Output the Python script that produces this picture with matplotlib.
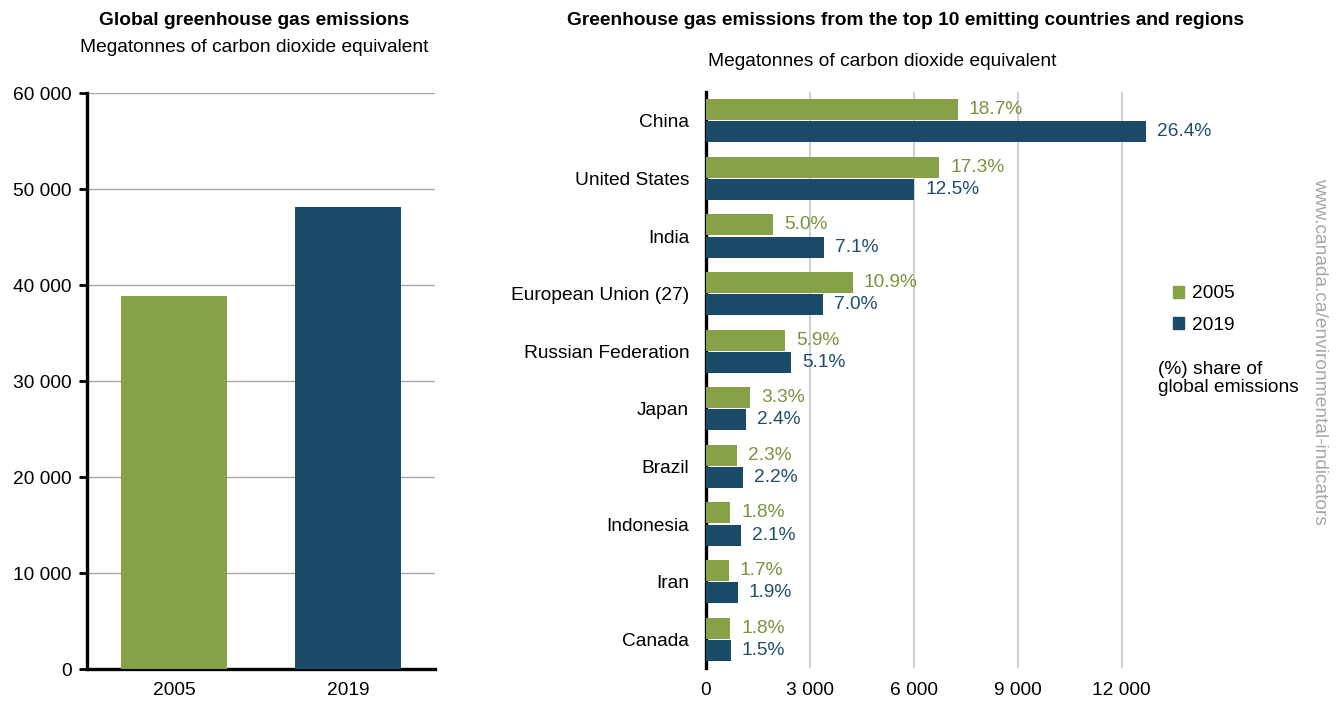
import matplotlib
matplotlib.use("Agg")
import matplotlib.pyplot as plt
from matplotlib.patches import Patch
from matplotlib.ticker import FuncFormatter

plt.rcParams['font.family'] = ['Liberation Sans', 'DejaVu Sans']

# data
years = ["2005", "2019"]
global_totals = [38900, 48100]

countries = ["China", "United States", "India", "European Union (27)", "Russian Federation",
             "Japan", "Brazil", "Indonesia", "Iran", "Canada"]
emis_2005 = [7270, 6730, 1945, 4240, 2295, 1280, 895, 700, 660, 700]
emis_2019 = [12700, 6010, 3415, 3370, 2450, 1155, 1060, 1010, 915, 720]
share_2005 = ["18.7%", "17.3%", "5.0%", "10.9%", "5.9%", "3.3%", "2.3%", "1.8%", "1.7%", "1.8%"]
share_2019 = ["26.4%", "12.5%", "7.1%", "7.0%", "5.1%", "2.4%", "2.2%", "2.1%", "1.9%", "1.5%"]

GREEN = "#87a146"
BLUE = "#1b4b68"
GREEN_TXT = "#77933c"
BLUE_TXT = "#1f4e6b"
FS = 13.8

def space_thousands(v, pos):
    return f"{int(v):,}".replace(",", " ")

fig = plt.figure(figsize=(13.36, 7.02), dpi=100)

# left: global totals
ax1 = fig.add_axes([0.0651, 0.047, 0.2605, 0.8205])
ax1.bar([0, 1], global_totals, width=0.61, color=[GREEN, BLUE], zorder=3)
ax1.set_xlim(-0.5, 1.5)
ax1.set_ylim(0, 60000)
ax1.set_yticks(range(0, 60001, 10000))
ax1.yaxis.set_major_formatter(FuncFormatter(space_thousands))
ax1.set_xticks([0, 1])
ax1.set_xticklabels(years)
ax1.yaxis.grid(True, color="#a6a6a6", linewidth=1, zorder=0)
for s in ["top", "right"]:
    ax1.spines[s].set_visible(False)
for s in ["left", "bottom"]:
    ax1.spines[s].set_linewidth(2.4)
    ax1.spines[s].set_color("black")
ax1.tick_params(axis="y", length=6, width=2, labelsize=FS, pad=5)
ax1.tick_params(axis="x", length=0, labelsize=FS, pad=9)

fig.text(0.19, 0.971, "Global greenhouse gas emissions", ha="center", va="center",
         fontsize=FS, fontweight="bold")
fig.text(0.19, 0.932, "Megatonnes of carbon dioxide equivalent", ha="center", va="center",
         fontsize=FS)

# right: top 10 emitters
ax2 = fig.add_axes([0.5284, 0.0484, 0.3305, 0.8205])
n = len(countries)
pos = list(range(n))
h = 0.365
y05 = [p - h / 2 - 0.01 for p in pos]
y19 = [p + h / 2 + 0.01 for p in pos]
ax2.barh(y05, emis_2005, height=h, color=GREEN, zorder=3)
ax2.barh(y19, emis_2019, height=h, color=BLUE, zorder=3)
for y, v, t in zip(y05, emis_2005, share_2005):
    ax2.annotate(t, (v, y), xytext=(8, 0), textcoords="offset points", va="center",
                 ha="left", fontsize=FS, color=GREEN_TXT, zorder=4)
for y, v, t in zip(y19, emis_2019, share_2019):
    ax2.annotate(t, (v, y), xytext=(8, 0), textcoords="offset points", va="center",
                 ha="left", fontsize=FS, color=BLUE_TXT, zorder=4)
ax2.set_ylim(n - 0.5, -0.5)
ax2.set_xlim(0, 12750)
ax2.set_yticks(pos)
ax2.set_yticklabels(countries)
ax2.set_xticks(range(0, 12001, 3000))
ax2.xaxis.set_major_formatter(FuncFormatter(space_thousands))
ax2.xaxis.grid(True, color="#c8c8c8", linewidth=1.2, zorder=0)
for s in ["top", "right", "bottom"]:
    ax2.spines[s].set_visible(False)
ax2.spines["left"].set_linewidth(2.4)
ax2.spines["left"].set_color("black")
ax2.tick_params(axis="y", length=0, labelsize=FS, pad=12)
ax2.tick_params(axis="x", length=0, labelsize=FS, pad=10)

fig.text(0.678, 0.971, "Greenhouse gas emissions from the top 10 emitting countries and regions",
         ha="center", va="center", fontsize=FS, fontweight="bold")
fig.text(0.66, 0.913, "Megatonnes of carbon dioxide equivalent", ha="center", va="center",
         fontsize=FS)

handles = [Patch(color=GREEN, label="2005"), Patch(color=BLUE, label="2019")]
fig.legend(handles=handles, loc="center left", bbox_to_anchor=(0.872, 0.559), frameon=False,
           fontsize=FS, handlelength=0.6, handleheight=0.6, handletextpad=0.4,
           labelspacing=0.75, borderaxespad=0)
fig.text(0.867, 0.461, "(%) share of\nglobal emissions", ha="left", va="center",
         fontsize=FS, linespacing=1.05)

fig.text(0.988, 0.5, "www.canada.ca/environmental-indicators", rotation=270, ha="center",
         va="center", fontsize=FS, color="#a6a6a6")

fig.savefig("out.png", dpi=100)
